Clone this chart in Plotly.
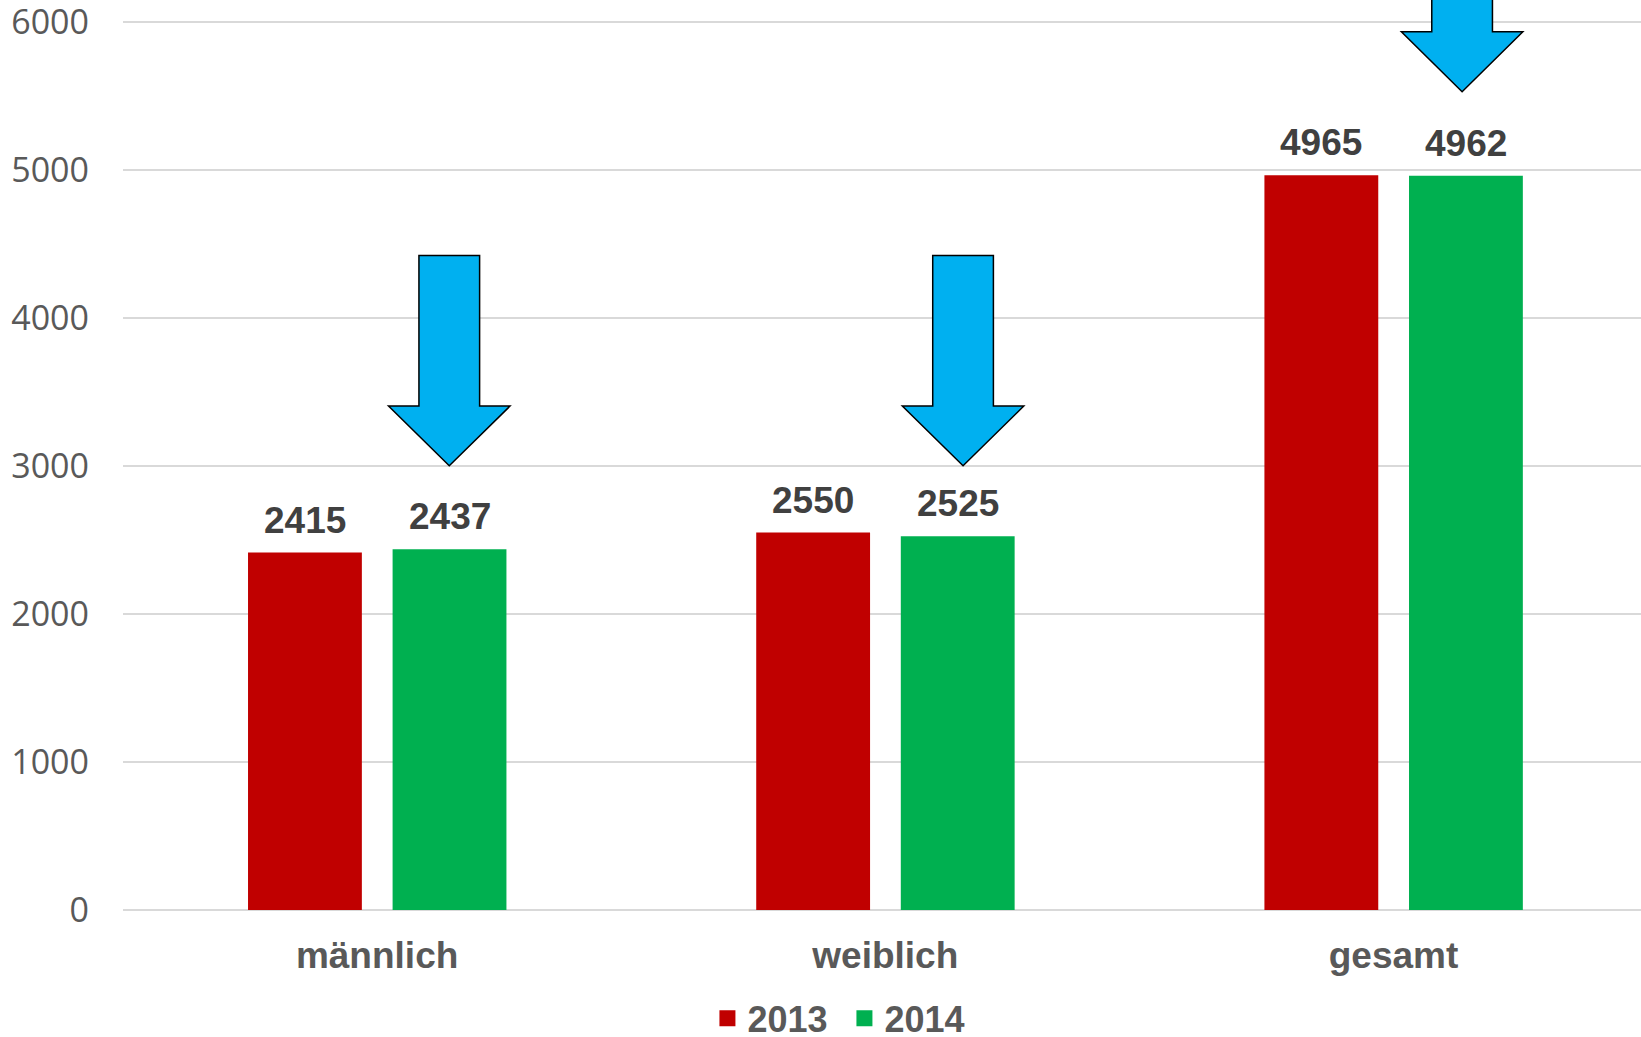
import plotly.graph_objects as go

# ---- data ----
categories = ["männlich", "weiblich", "gesamt"]
years = ["2013", "2014"]
values_2013 = [2415, 2550, 4965]
values_2014 = [2437, 2525, 4962]
y_ticks = [0, 1000, 2000, 3000, 4000, 5000, 6000]

colors = {"2013": "#C00000", "2014": "#00B050"}
bar_width = 0.224
offsets = {"2013": -0.254, "2014": 0.0305}

x_idx = list(range(len(categories)))

fig = go.Figure()
for yr, vals in zip(years, [values_2013, values_2014]):
    fig.add_trace(go.Bar(
        x=x_idx, y=vals, name=yr, showlegend=False,
        marker=dict(color=colors[yr], line=dict(width=0)),
        width=bar_width, offset=offsets[yr],
        hoverinfo="skip",
    ))
# legend entries (square swatches)
for yr in years:
    fig.add_trace(go.Scatter(
        x=[None], y=[None], mode="markers", name=f"<b>{yr}</b>",
        marker=dict(symbol="square", size=19, color=colors[yr]),
    ))

# data labels
for yr, vals in zip(years, [values_2013, values_2014]):
    for i, v in enumerate(vals):
        fig.add_annotation(
            x=i + offsets[yr] + bar_width / 2, y=v, text=f"<b>{v}</b>",
            showarrow=False, yanchor="bottom", yshift=10,
            font=dict(family="Liberation Sans, Arial", size=37, color="#404040"),
        )

# decorative down arrows (category index offset, top, head base, tip)
arrow_x = [0.142, 1.153, 2.135]
arrow_top = [4423, 4423, 6952]
arrow_head = [3405, 3405, 5934]
arrow_tip = [3002, 3002, 5529]
shaft_hw = 0.0597
head_hw = 0.1195
for xc, yt, yh, yp in zip(arrow_x, arrow_top, arrow_head, arrow_tip):
    path = (f"M {xc-shaft_hw},{yt} L {xc+shaft_hw},{yt} L {xc+shaft_hw},{yh} "
            f"L {xc+head_hw},{yh} L {xc},{yp} L {xc-head_hw},{yh} "
            f"L {xc-shaft_hw},{yh} Z")
    fig.add_shape(type="path", path=path, xref="x", yref="y",
                  fillcolor="#00B0F0", line=dict(color="#000000", width=1.5),
                  layer="above")

fig.update_layout(
    width=1641, height=1037,
    margin=dict(l=123, r=0, t=0, b=127, pad=0, autoexpand=False),
    plot_bgcolor="white", paper_bgcolor="white",
    barmode="overlay",
    showlegend=True,
    legend=dict(orientation="h", x=0.385, xanchor="left", y=-0.119, yanchor="middle",
                font=dict(family="Liberation Sans, Arial", size=36, color="#595959"),
                itemclick=False, traceorder="normal", itemwidth=30,
                entrywidth=92, tracegroupgap=0),
    xaxis=dict(
        range=[-0.5, 2.487], tickvals=x_idx, ticktext=[f"<b>{c}</b>" for c in categories],
        showgrid=False, zeroline=False, showline=False, ticks="",
        tickfont=dict(family="Liberation Sans, Arial", size=37, color="#595959"),
        ticklabelstandoff=20, ticklabeloverflow="allow",
    ),
    yaxis=dict(
        range=[0, 6149], tickvals=y_ticks, ticktext=[str(t) for t in y_ticks],
        showgrid=True, gridcolor="#D9D9D9", gridwidth=1.5,
        zeroline=True, zerolinecolor="#D9D9D9", zerolinewidth=1.5,
        showline=False, ticks="",
        tickfont=dict(family="Open Sans", size=34, color="#595959"),
        ticklabelstandoff=33, ticklabeloverflow="allow",
    ),
)

fig.write_html("out.html", config={"displayModeBar": False},
               post_script="document.body.style.margin='0';")
